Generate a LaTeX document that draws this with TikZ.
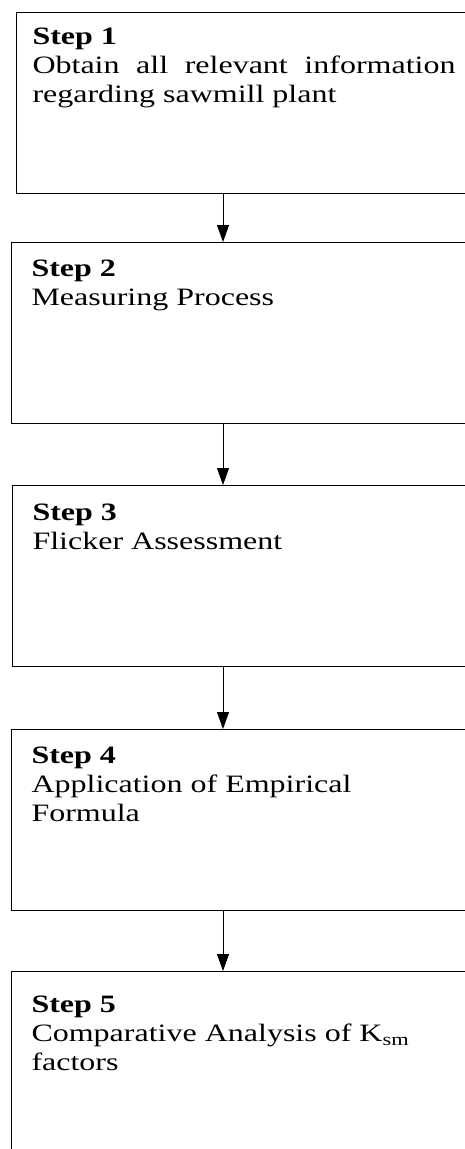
\documentclass[tikz,border=0pt]{standalone}
\usepackage{fontspec}
\setmainfont{Liberation Serif}[FakeStretch=1.28]
\usepackage{tikz}
\usetikzlibrary{positioning, arrows.meta, calc}

\tikzset{
	stepbox/.style={draw, line width=1pt, anchor=north west, align=justify,
		text width=423pt, inner xsep=20pt, inner ysep=0pt,
		text height=34pt, text depth=147pt,
		font=\fontsize{25pt}{29pt}\selectfont},
	flow/.style={-{Triangle[width=12pt, length=17pt]}, line width=1pt}
}

\begin{document}
\begin{tikzpicture}[x=1pt, y=1pt]
					\useasboundingbox (0,0) rectangle (465,-1149);
					\clip (0,0) rectangle (465,-1149);
					\fill[white] (0,0) rectangle (465,-1149);
					
					\node[stepbox, inner xsep=16pt, text height=32pt, text depth=149pt] at (16,-12) (s1) {\textbf{Step 1}\\ Obtain all relevant information regarding sawmill plant};
					\node[stepbox] at (11,-242) (s2) {\textbf{Step 2}\\ Measuring Process};
					\node[stepbox, text height=35pt, text depth=146pt] at (12,-485) (s3) {\textbf{Step 3}\\ Flicker Assessment};
					\node[stepbox] at (11,-729) (s4) {\textbf{Step 4}\\ Application of Empirical\\ Formula};
					\node[stepbox, text height=41pt, text depth=140pt] at (11,-971) (s5) {\textbf{Step 5}\\ Comparative Analysis of K\textsubscript{sm}\\ factors};
					
					\coordinate (ax) at (223,0);
					\draw[flow] (s1.south -| ax) -- (s2.north -| ax);
					\draw[flow] (s2.south -| ax) -- (s3.north -| ax);
					\draw[flow] (s3.south -| ax) -- (s4.north -| ax);
					\draw[flow] (s4.south -| ax) -- (s5.north -| ax);
				\end{tikzpicture}
\end{document}
